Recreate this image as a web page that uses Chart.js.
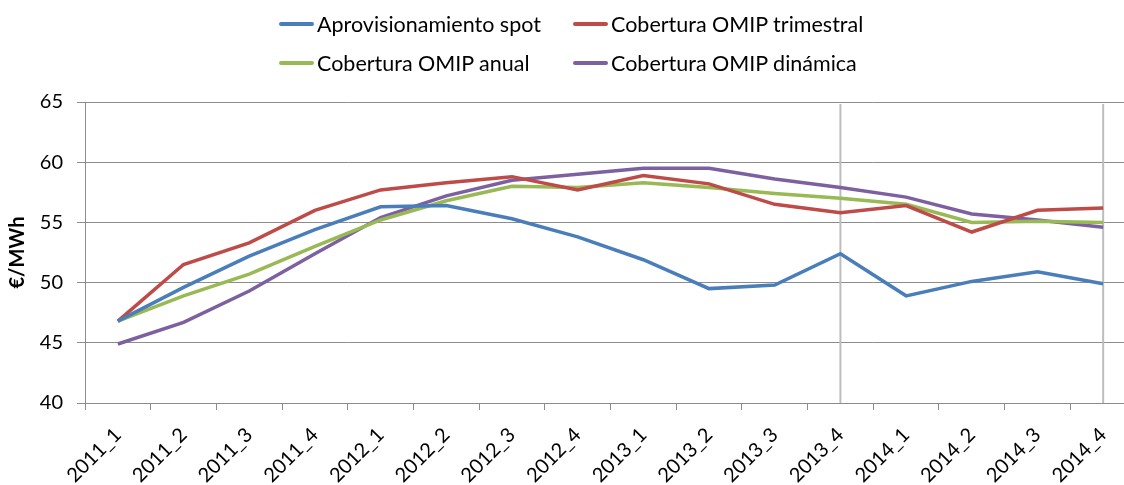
<!DOCTYPE html>
<html>
<head>
<meta charset="utf-8">
<script src="https://cdn.jsdelivr.net/npm/chart.js@4/dist/chart.umd.min.js"></script>
<style>
  html, body { margin: 0; padding: 0; background: #fff; overflow: hidden; }
  #wrap { position: relative; width: 1124px; height: 485px; overflow: hidden; }
  #box { position: absolute; left: 0; top: 0; width: 1140px; height: 485px; }
  #legend {
    position: absolute; left: 279px; top: 4px;
    display: grid; grid-template-columns: 294px auto;
    font-family: Lato, sans-serif; font-size: 21.5px; color: #000;
  }
  .item { display: flex; align-items: center; height: 39px; }
  .swatch { width: 35px; height: 4px; margin-right: 3px; border-radius: 2px; }
</style>
</head>
<body>
<div id="wrap">
  <div id="box"><canvas id="myChart" width="1140" height="485"></canvas></div>
  <div id="legend"></div>
</div>
<script>
// Data
const quarters = ['2011_1', '2011_2', '2011_3', '2011_4', '2012_1', '2012_2', '2012_3', '2012_4',
                  '2013_1', '2013_2', '2013_3', '2013_4', '2014_1', '2014_2', '2014_3', '2014_4'];
const spot =       [46.8, 49.6, 52.2, 54.4, 56.3, 56.4, 55.3, 53.8, 51.9, 49.5, 49.8, 52.4, 48.9, 50.1, 50.9, 49.9];
const trimestral = [46.8, 51.5, 53.3, 56.0, 57.7, 58.3, 58.8, 57.7, 58.9, 58.2, 56.5, 55.8, 56.4, 54.2, 56.0, 56.2];
const anual =      [46.8, 48.9, 50.7, 53.0, 55.2, 56.8, 58.0, 57.9, 58.3, 57.9, 57.4, 57.0, 56.5, 55.0, 55.1, 55.0];
const dinamica =   [44.9, 46.7, 49.3, 52.4, 55.4, 57.2, 58.5, 59.0, 59.5, 59.5, 58.6, 57.9, 57.1, 55.7, 55.2, 54.6];
const markedQuarters = ['2013_4', '2014_4']; // vertical reference lines

const font = 'Lato, sans-serif';
const gridColor = '#8c8c8c';

// vertical gray lines at the marked quarters
const markerLines = {
    id: 'markerLines',
    beforeDatasetsDraw(chart) {
        const { ctx, chartArea, scales } = chart;
        ctx.save();
        ctx.strokeStyle = '#bdbdbd';
        ctx.lineWidth = 2;
        markedQuarters.forEach(q => {
            const x = scales.x.getPixelForValue(quarters.indexOf(q));
            ctx.beginPath();
            ctx.moveTo(x, chartArea.top + 2);
            ctx.lineTo(x, chartArea.bottom);
            ctx.stroke();
        });
        ctx.restore();
    }
};

const ctx = document.getElementById('myChart').getContext('2d');
const chart = new Chart(ctx, {
    type: 'line',
    data: {
        labels: quarters,
        datasets: [
            { label: 'Aprovisionamiento spot', data: spot, borderColor: '#4a7ebb' },
            { label: 'Cobertura OMIP trimestral', data: trimestral, borderColor: '#be4b48' },
            { label: 'Cobertura OMIP anual', data: anual, borderColor: '#98b954' },
            { label: 'Cobertura OMIP dinámica', data: dinamica, borderColor: '#7d60a0' }
        ]
    },
    options: {
        responsive: false,
        animation: false,
        layout: { padding: { top: 102, right: 4, left: 0, bottom: 0 } },
        elements: {
            line: { borderWidth: 3.5, tension: 0, fill: false },
            point: { radius: 0 }
        },
        plugins: {
            legend: { display: false },
            tooltip: { enabled: false }
        },
        scales: {
            x: {
                offset: true,
                grid: { offset: true, drawOnChartArea: false, color: gridColor, tickLength: 7 },
                border: { color: gridColor },
                ticks: {
                    color: '#000', font: { family: font, size: 20 },
                    minRotation: 45, maxRotation: 45, padding: 13, autoSkip: false
                },
                afterFit(scale) { scale.height = 82; }
            },
            y: {
                min: 40, max: 65,
                grid: { color: gridColor, tickLength: 8 },
                border: { color: gridColor },
                ticks: { stepSize: 5, color: '#000', font: { family: font, size: 20 }, padding: 14 },
                title: {
                    display: true, text: '€/MWh', color: '#000',
                    font: { family: font, size: 20, weight: 'bold' },
                    padding: { top: 6, bottom: 0 }
                },
                afterFit(scale) { scale.width = 85; }
            }
        }
    },
    plugins: [markerLines]
});

// legend in two aligned columns
const legend = document.getElementById('legend');
chart.data.datasets.forEach(ds => {
    const item = document.createElement('div');
    item.className = 'item';
    item.innerHTML = '<span class="swatch" style="background:' + ds.borderColor + '"></span>' + ds.label;
    legend.appendChild(item);
});
</script>
</body>
</html>
